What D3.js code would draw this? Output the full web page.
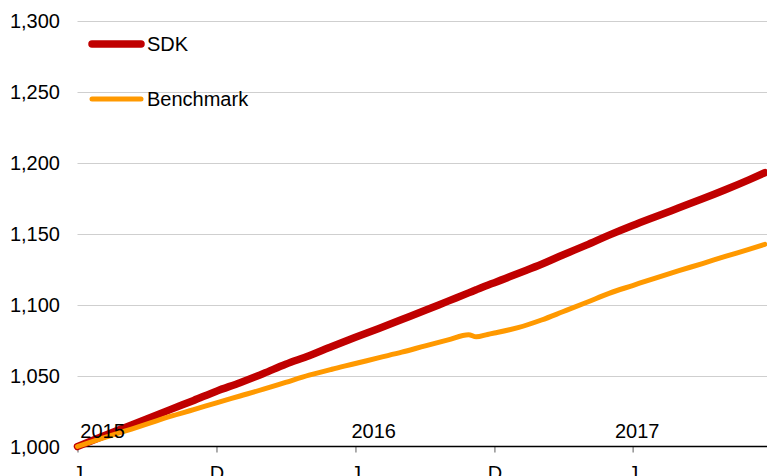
<!DOCTYPE html>
<html>
<head>
<meta charset="utf-8">
<script src="https://cdn.jsdelivr.net/npm/d3@7"></script>
<style>
  html, body { margin: 0; padding: 0; background: #fff; }
  svg { display: block; font-family: "Liberation Sans", Arial, sans-serif; }
</style>
</head>
<body>
<svg id="chart" width="767" height="476"></svg>
<script>
// ---- data ----
const dates = ["2015-06-01","2015-07-01","2015-08-01","2015-09-01","2015-10-01","2015-11-01",
  "2015-12-01","2016-01-01","2016-02-01","2016-03-01","2016-04-01","2016-05-01",
  "2016-06-01","2016-07-01","2016-08-01","2016-09-01","2016-10-01","2016-10-28",
  "2016-11-07","2016-11-22","2016-12-01","2017-01-01","2017-02-01","2017-03-01",
  "2017-04-01","2017-05-01","2017-06-01","2017-07-01","2017-08-01","2017-09-01",
  "2017-10-01","2017-11-01","2017-11-22"];
const sdk = [1000,1006.5,1013,1019.5,1026,1032.5,1039,1045,1051.5,1058,1064,1070.5,
  1077,1083,1089.5,1096,1102.5,1108.3,1110.5,1113.7,1115.5,1122,1128.5,1135,
  1142,1149,1155.8,1162,1168.3,1174.6,1181,1188,1193];
const benchmark = [1000,1005.3,1010.6,1015.9,1021.2,1026,1030.8,1035.6,1040.4,1045.2,1050.3,1054.5,
  1058.5,1062.5,1066.5,1071,1075.2,1078.8,1077.3,1079,1080,1083.8,1089.2,1095,
  1101.5,1108,1113.5,1118.8,1124,1129,1134,1139,1142.5];
const seriesNames = ["SDK", "Benchmark"];
const yTicks = [1000, 1050, 1100, 1150, 1200, 1250, 1300];
const xTickDates = ["2015-06-01","2015-12-01","2016-06-01","2016-12-01","2017-06-01"];
const xTickLabels = ["J","D","J","D","J"];
const yearLabels = ["2015","2016","2017"];
const yearAnchorDates = ["2015-07-04","2016-06-25","2017-06-07"];

(function () {
// ---- setup ----
const parse = d3.utcParse("%Y-%m-%d");
const svg = d3.select("#chart");
const plotLeft = 77.5, plotRight = 767, plotTop = 21, plotBottom = 446.5;

const x = d3.scaleUtc()
  .domain([parse("2015-06-01"), parse("2017-12-01")])
  .range([plotLeft, 771.6]);
const y = d3.scaleLinear().domain([1000, 1300]).range([plotBottom, plotTop]);

const colors = ["#C00000", "#FF9900"];
const widths = [7.5, 5];

// gridlines
svg.append("g").selectAll("line")
  .data(yTicks.filter(v => v !== 1000))
  .join("line")
  .attr("x1", plotLeft).attr("x2", plotRight)
  .attr("y1", d => Math.round(y(d)) + 0.5).attr("y2", d => Math.round(y(d)) + 0.5)
  .attr("stroke", "#cfcfcf").attr("stroke-width", 1.2);

// y labels
svg.append("g").selectAll("text")
  .data(yTicks)
  .join("text")
  .attr("x", 60).attr("y", d => y(d))
  .attr("dy", "0.35em")
  .attr("text-anchor", "end")
  .attr("font-size", 20).attr("fill", "#000")
  .text(d => d3.format(",")(d));

// x axis
const xAxis = d3.axisBottom(x)
  .tickValues(xTickDates.map(parse))
  .tickFormat((d, i) => xTickLabels[i])
  .tickSize(6).tickSizeOuter(0).tickPadding(13);
const gx = svg.append("g").attr("transform", `translate(0,${plotBottom})`).call(xAxis);
gx.select(".domain").remove();
gx.selectAll(".tick line").attr("stroke", "#777").attr("stroke-width", 1.2);
gx.selectAll(".tick text").attr("font-size", 20).attr("fill", "#000")
  .attr("font-family", "Liberation Sans, Arial, sans-serif");
svg.append("line")
  .attr("x1", plotLeft).attr("x2", plotRight)
  .attr("y1", plotBottom).attr("y2", plotBottom)
  .attr("stroke", "#000").attr("stroke-width", 1.6);

// lines
const series = [sdk, benchmark];
const line = d3.line().curve(d3.curveMonotoneX).x(d => x(d.date)).y(d => y(d.v));
series.forEach((vals, i) => {
  const pts = dates.map((d, j) => ({ date: parse(d), v: vals[j] }));
  svg.append("path")
    .datum(pts)
    .attr("d", line)
    .attr("fill", "none")
    .attr("stroke", colors[i])
    .attr("stroke-width", widths[i])
    .attr("stroke-linecap", "round")
    .attr("stroke-linejoin", "round");
});

// year labels
svg.append("g").selectAll("text")
  .data(yearLabels)
  .join("text")
  .attr("x", (d, i) => x(parse(yearAnchorDates[i])))
  .attr("y", 438)
  .attr("text-anchor", "middle")
  .attr("font-size", 20).attr("fill", "#000")
  .text(d => d);

// legend
const legendY = [44, 99];
const lg = svg.append("g");
seriesNames.forEach((name, i) => {
  lg.append("line")
    .attr("x1", 92).attr("x2", 141)
    .attr("y1", legendY[i]).attr("y2", legendY[i])
    .attr("stroke", colors[i]).attr("stroke-width", widths[i])
    .attr("stroke-linecap", "round");
  lg.append("text")
    .attr("x", 147).attr("y", legendY[i])
    .attr("dy", "0.36em")
    .attr("font-size", 20).attr("fill", "#000")
    .text(name);
});
})();
</script>
</body>
</html>
